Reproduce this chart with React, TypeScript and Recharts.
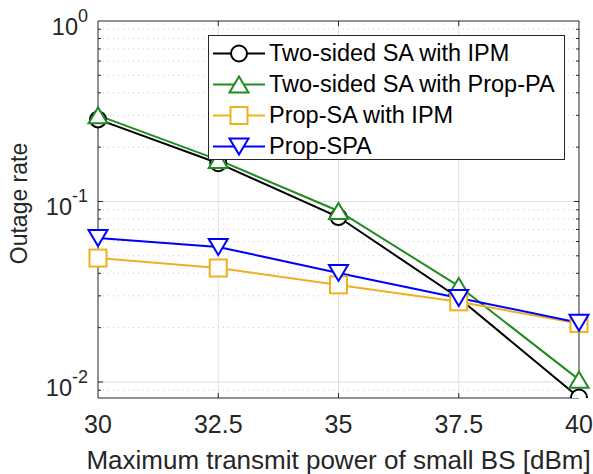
import { LineChart, Line, XAxis, YAxis, ReferenceLine, Legend } from 'recharts';

document.body.style.margin = '0';

// transmit power of small BS [dBm]
const power = [30, 32.5, 35, 37.5, 40];

// outage rate per scheme
const twoSidedIPM = [0.285, 0.163, 0.082, 0.0292, 0.0082];
const twoSidedPropPA = [0.3, 0.17, 0.0886, 0.034, 0.0103];
const propSAIPM = [0.0486, 0.0428, 0.0345, 0.0278, 0.0211];
const propSPA = [0.0628, 0.056, 0.0402, 0.0292, 0.0213];

const xTicks = [30, 32.5, 35, 37.5, 40];
const yTicks = [0.01, 0.1, 1];
const yMinor = [0.009, 0.02, 0.03, 0.04, 0.05, 0.06, 0.07, 0.08, 0.09, 0.2, 0.3, 0.4, 0.5, 0.6, 0.7, 0.8, 0.9];

const FONT = '"Liberation Sans", Arial, Helvetica, sans-serif';
const AXIS = '#262626';

const series = [
  { key: 'ipm', name: 'Two-sided SA with IPM', color: '#000000', marker: 'circle', values: twoSidedIPM },
  { key: 'ppa', name: 'Two-sided SA with Prop-PA', color: '#228B22', marker: 'up', values: twoSidedPropPA },
  { key: 'psa', name: 'Prop-SA with IPM', color: '#EDB120', marker: 'square', values: propSAIPM },
  { key: 'spa', name: 'Prop-SPA', color: '#0000FF', marker: 'down', values: propSPA },
];

const data = power.map((p, i) => {
  const row: Record<string, number> = { power: p };
  series.forEach(s => { row[s.key] = s.values[i]; });
  return row;
});

const Marker = ({ kind, cx, cy, color }: any) => {
  const sw = 2;
  if (kind === 'circle') {
    return <circle cx={cx} cy={cy} r={8} fill="#fff" stroke={color} strokeWidth={sw} />;
  }
  if (kind === 'square') {
    return <rect x={cx - 8.5} y={cy - 8.5} width={17} height={17} fill="#fff" stroke={color} strokeWidth={sw} />;
  }
  if (kind === 'up') {
    return <polygon points={`${cx},${cy - 8} ${cx + 9.5},${cy + 8} ${cx - 9.5},${cy + 8}`} fill="#fff" stroke={color} strokeWidth={sw} />;
  }
  return <polygon points={`${cx},${cy + 8} ${cx + 9.5},${cy - 8} ${cx - 9.5},${cy - 8}`} fill="#fff" stroke={color} strokeWidth={sw} />;
};

// grid line with inward tick marks at both ends
const hLine = (dotted: boolean, tick: number) => (p: any) => {
  const { x1, x2, y1 } = p;
  const l = Math.min(x1, x2);
  const r = Math.max(x1, x2);
  return (
    <g>
      <line x1={l} x2={r} y1={y1} y2={y1} stroke={dotted ? '#c8c8c8' : '#dfdfdf'} strokeWidth={1} strokeDasharray={dotted ? '1 4' : undefined} />
      <line x1={l} x2={l + tick} y1={y1} y2={y1} stroke={AXIS} strokeWidth={1} />
      <line x1={r - tick} x2={r} y1={y1} y2={y1} stroke={AXIS} strokeWidth={1} />
    </g>
  );
};

const vLine = (p: any) => {
  const { x1, y1, y2 } = p;
  const t = Math.min(y1, y2);
  const b = Math.max(y1, y2);
  return (
    <g>
      <line x1={x1} x2={x1} y1={t} y2={b} stroke="#dfdfdf" strokeWidth={1} />
      <line x1={x1} x2={x1} y1={t} y2={t + 5} stroke={AXIS} strokeWidth={1} />
      <line x1={x1} x2={x1} y1={b - 5} y2={b} stroke={AXIS} strokeWidth={1} />
    </g>
  );
};

const YTick = ({ x, y, payload }: any) => {
  const exp = Math.round(Math.log10(payload.value));
  return (
    <text x={x} y={y + 14} textAnchor="end" fill={AXIS} fontFamily={FONT} fontSize={23.5}>
      10<tspan dy={-13} fontSize={18}>{exp}</tspan>
    </text>
  );
};

const XTick = ({ x, y, payload }: any) => (
  <text x={x} y={y + 35} textAnchor="middle" fill={AXIS} fontFamily={FONT} fontSize={25}>
    {payload.value}
  </text>
);

const renderLegend = () => (
  <div style={{ width: 357, height: 125, boxSizing: 'border-box', border: `1px solid ${AXIS}`, background: '#fff', paddingTop: 2 }}>
    {series.map(s => (
      <div key={s.key} style={{ display: 'flex', alignItems: 'center', height: 31 }}>
        <svg width={60} height={31} style={{ flex: 'none' }}>
          <line x1={4} x2={56} y1={15.5} y2={15.5} stroke={s.color} strokeWidth={2} />
          <Marker kind={s.marker} cx={30} cy={15.5} color={s.color} />
        </svg>
        <span style={{ fontFamily: FONT, fontSize: 23.5, color: '#000', whiteSpace: 'nowrap' }}>{s.name}</span>
      </div>
    ))}
  </div>
);

const App = () => (
  <LineChart width={593} height={474} data={data} margin={{ top: 21, right: 14, left: 0, bottom: 0 }}>
    <XAxis
      dataKey="power"
      type="number"
      domain={[30, 40]}
      ticks={xTicks}
      tickLine={false}
      tickSize={0}
      tickMargin={0}
      height={76}
      axisLine={{ stroke: AXIS }}
      tick={<XTick />}
      label={{
        content: (p: any) => {
          const vb = p.viewBox;
          return (
            <text x={vb.x + vb.width / 2} y={vb.y + 71} textAnchor="middle" fill={AXIS} fontFamily={FONT} fontSize={26}>
              Maximum transmit power of small BS [dBm]
            </text>
          );
        },
      }}
    />
    <YAxis
      type="number"
      scale="log"
      domain={[0.00815, 1]}
      allowDataOverflow
      ticks={yTicks}
      tickLine={false}
      tickSize={0}
      tickMargin={10}
      width={98}
      axisLine={{ stroke: AXIS }}
      tick={<YTick />}
      label={{
        content: (p: any) => {
          const vb = p.viewBox;
          const cx = vb.x + 27;
          const cy = vb.y + vb.height / 2 - 6;
          return (
            <text x={cx} y={cy} transform={`rotate(-90 ${cx} ${cy})`} textAnchor="middle" fill={AXIS} fontFamily={FONT} fontSize={23}>
              Outage rate
            </text>
          );
        },
      }}
    />
    {yMinor.map(v => (
      <ReferenceLine key={`m${v}`} y={v} shape={hLine(true, 3)} />
    ))}
    {yTicks.slice(0, 2).map(v => (
      <ReferenceLine key={`M${v}`} y={v} shape={hLine(false, 5)} />
    ))}
    {xTicks.slice(1, 4).map(v => (
      <ReferenceLine key={`x${v}`} x={v} shape={vLine} />
    ))}
    <ReferenceLine y={1} stroke={AXIS} strokeWidth={1} />
    <ReferenceLine x={40} stroke={AXIS} strokeWidth={1} />
    {series.map(s => (
      <Line
        key={s.key}
        dataKey={s.key}
        name={s.name}
        stroke={s.color}
        strokeWidth={2}
        isAnimationActive={false}
        dot={(p: any) => <Marker key={`${s.key}-${p.index}`} kind={s.marker} cx={p.cx} cy={p.cy} color={s.color} />}
      />
    ))}
    <Legend
      content={renderLegend}
      layout="horizontal"
      verticalAlign="middle"
      align="center"
      wrapperStyle={{ left: 208, top: 35, width: 357, height: 125 }}
    />
  </LineChart>
);

export default App;
